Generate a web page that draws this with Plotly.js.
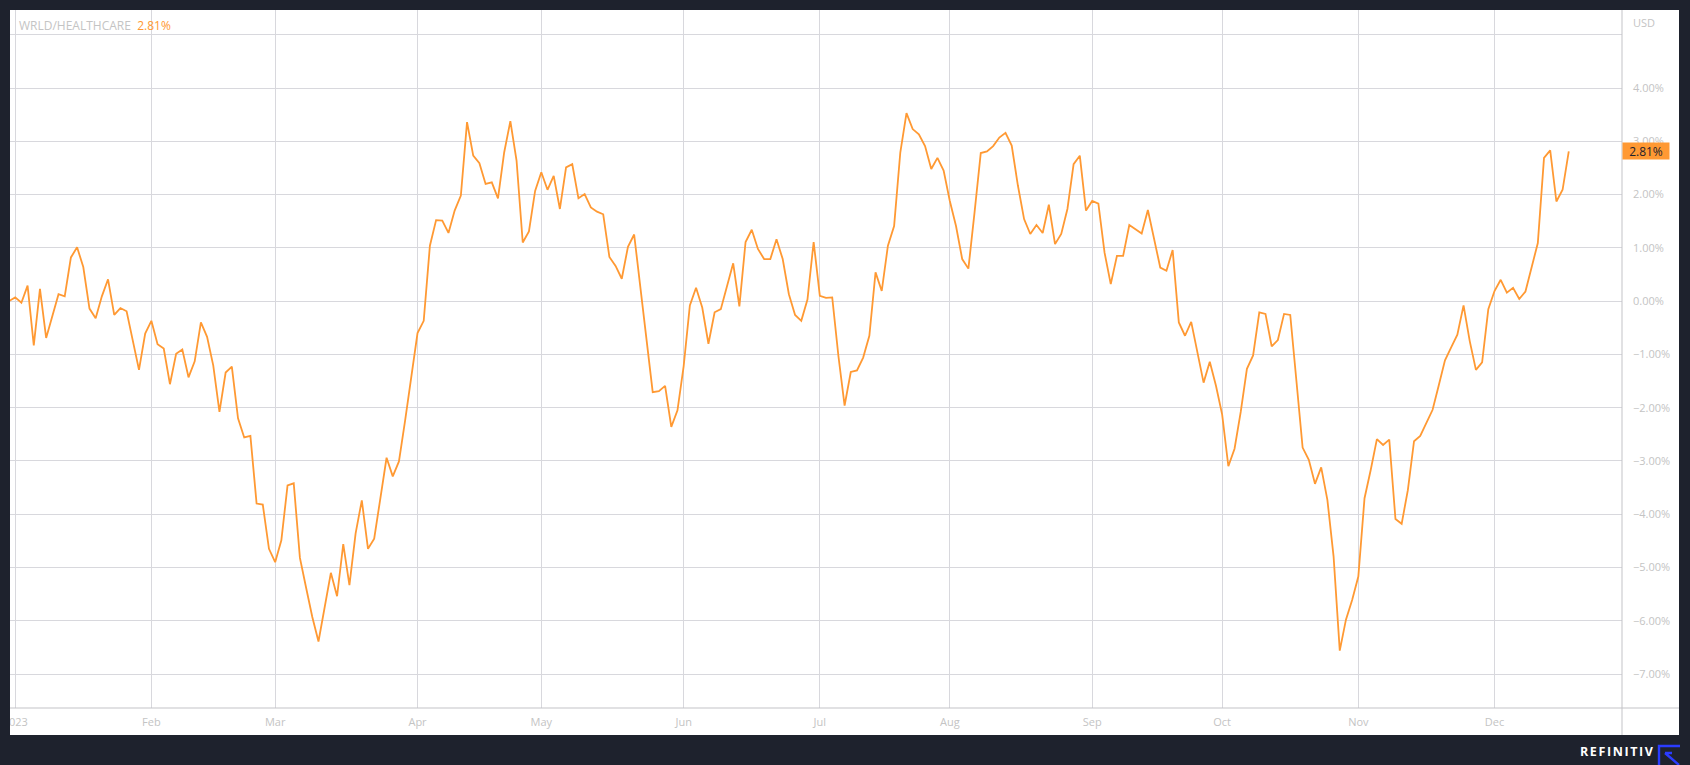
<!DOCTYPE html>
<html>
<head>
<meta charset="utf-8">
<script src="https://cdn.plot.ly/plotly-3.0.1.min.js"></script>
<style>
  html, body { margin: 0; padding: 0; background: #1e222d; width: 1690px; height: 765px; overflow: hidden; }
  #panel { position: absolute; left: 10px; top: 10px; width: 1669px; height: 725px; background: #ffffff; overflow: hidden; }
  #chart { position: absolute; left: 0; top: 0; width: 1669px; height: 725px; }
  #brand { position: absolute; left: 1580px; top: 744px; font-family: 'Open Sans', sans-serif; font-weight: 700;
           font-size: 12.5px; letter-spacing: 1.6px; color: #ffffff; line-height: 16px; }
  #logo { position: absolute; left: 1657px; top: 744px; }
</style>
</head>
<body>
<div id="panel"><div id="chart"></div></div>
<div id="brand">REFINITIV</div>
<svg id="logo" width="24" height="21" viewBox="0 0 24 21">
  <path d="M2 21 V2 H23" fill="none" stroke="#2b3cff" stroke-width="2.4"/>
  <path d="M8 9 L22 21 M8 9 H15" fill="none" stroke="#2b3cff" stroke-width="2.4"/>
</svg>
<script>
// ---- data ----
const seriesName = 'WRLD/HEALTHCARE';
const currency = 'USD';
const firstTradingDay = '2022-12-30';
// daily relative performance (%), one value per weekday from firstTradingDay
const relPerf = [
  0.00, 0.07, -0.03, 0.29, -0.83, 0.23, -0.69, -0.26, 0.13, 0.09,
  0.82, 1.01, 0.64, -0.14, -0.32, 0.09, 0.41, -0.26, -0.13, -0.19,
  -0.73, -1.29, -0.61, -0.37, -0.81, -0.89, -1.56, -0.99, -0.91, -1.43,
  -1.13, -0.40, -0.67, -1.21, -2.08, -1.34, -1.23, -2.20, -2.56, -2.53,
  -3.80, -3.82, -4.65, -4.90, -4.49, -3.46, -3.42, -4.82, -5.38, -5.93,
  -6.39, -5.73, -5.10, -5.54, -4.56, -5.33, -4.36, -3.74, -4.65, -4.46,
  -3.66, -2.94, -3.29, -3.01, -2.24, -1.45, -0.60, -0.37, 1.04, 1.52,
  1.51, 1.28, 1.70, 1.98, 3.36, 2.73, 2.59, 2.20, 2.23, 1.93,
  2.79, 3.38, 2.64, 1.10, 1.31, 2.07, 2.42, 2.09, 2.35, 1.73,
  2.51, 2.57, 1.93, 2.01, 1.76, 1.68, 1.63, 0.83, 0.66, 0.42,
  1.02, 1.25, 0.25, -0.70, -1.71, -1.69, -1.59, -2.36, -2.05, -1.22,
  -0.08, 0.25, -0.12, -0.80, -0.21, -0.15, 0.26, 0.71, -0.10, 1.11,
  1.34, 0.98, 0.79, 0.79, 1.16, 0.79, 0.13, -0.26, -0.37, 0.03,
  1.11, 0.10, 0.06, 0.07, -1.03, -1.96, -1.33, -1.30, -1.06, -0.65,
  0.54, 0.19, 1.04, 1.41, 2.79, 3.53, 3.23, 3.13, 2.91, 2.48,
  2.69, 2.45, 1.88, 1.41, 0.79, 0.61, 1.67, 2.78, 2.81, 2.91,
  3.07, 3.16, 2.92, 2.17, 1.54, 1.26, 1.43, 1.28, 1.81, 1.07,
  1.26, 1.73, 2.57, 2.73, 1.70, 1.88, 1.83, 0.91, 0.32, 0.85,
  0.85, 1.43, 1.35, 1.27, 1.71, 1.20, 0.63, 0.57, 0.96, -0.40,
  -0.65, -0.39, -0.97, -1.53, -1.14, -1.59, -2.13, -3.10, -2.77, -2.08,
  -1.27, -1.02, -0.21, -0.24, -0.85, -0.73, -0.24, -0.26, -1.50, -2.75,
  -2.98, -3.43, -3.12, -3.73, -4.79, -6.56, -5.98, -5.61, -5.17, -3.70,
  -3.17, -2.59, -2.70, -2.60, -4.09, -4.18, -3.55, -2.63, -2.53, -2.30,
  -2.04, -1.58, -1.11, -0.87, -0.63, -0.08, -0.75, -1.29, -1.15, -0.15,
  0.19, 0.40, 0.16, 0.25, 0.04, 0.18, 0.66, 1.09, 2.69, 2.83,
  1.87, 2.09, 2.81
];
const monthTicks = ['2023-01-02','2023-02-01','2023-03-01','2023-04-03','2023-05-01','2023-06-01',
                    '2023-07-03','2023-08-01','2023-09-01','2023-10-02','2023-11-01','2023-12-01'];
const monthLabels = ['2023','Feb','Mar','Apr','May','Jun','Jul','Aug','Sep','Oct','Nov','Dec'];
const yTickVals = [-7,-6,-5,-4,-3,-2,-1,0,1,2,3,4,5];

// ---- build weekday dates ----
function weekdayDates(start, n) {
  const out = [];
  const d = new Date(start + 'T00:00:00Z');
  while (out.length < n) {
    const wd = d.getUTCDay();
    if (wd !== 0 && wd !== 6) out.push(d.toISOString().slice(0, 10));
    d.setUTCDate(d.getUTCDate() + 1);
  }
  return out;
}
const dates = weekdayDates(firstTradingDay, relPerf.length);
const lastVal = relPerf[relPerf.length - 1];
const fmt = v => v.toFixed(2) + '%';

const orange = '#ff9933';
const grid = '#d8d8dd';
const axisCol = '#c3c3c7';
const labelCol = '#c4c4c4';
const W = 1669, H = 725, R = 57, B = 27;
const plotW = W - R, plotH = H - B;

const trace = {
  x: dates, y: relPerf, type: 'scatter', mode: 'lines',
  line: { color: orange, width: 1.8, shape: 'linear' },
  hoverinfo: 'x+y'
};

const layout = {
  width: W, height: H,
  margin: { l: 0, r: R, t: 0, b: B, pad: 0 },
  paper_bgcolor: '#ffffff', plot_bgcolor: '#ffffff',
  showlegend: false,
  font: { family: 'Open Sans, sans-serif', size: 11, color: labelCol },
  xaxis: {
    type: 'date',
    rangebreaks: [{ bounds: ['sat', 'mon'] }],
    range: ['2022-12-30 03:50', '2023-12-29 14:24'],
    tickmode: 'array', tickvals: monthTicks, ticktext: monthLabels,
    showgrid: true, gridcolor: grid, gridwidth: 1,
    zeroline: false, showline: false, ticks: '',
    ticklabelstandoff: 6,
    ticklabeloverflow: 'allow',
    tickfont: { family: 'Open Sans, sans-serif', size: 11, color: labelCol },
    fixedrange: true
  },
  yaxis: {
    side: 'right',
    range: [-7.638, 5.465],
    tickmode: 'array', tickvals: yTickVals,
    ticktext: yTickVals.map(v => v === 5 ? '' : fmt(v).replace('-', '\u2212')),
    showgrid: true, gridcolor: grid, gridwidth: 1,
    zeroline: false, showline: false, ticks: '',
    ticklabelstandoff: 10,
    tickfont: { family: 'Open Sans, sans-serif', size: 11, color: labelCol },
    fixedrange: true
  },
  shapes: [
    { type: 'line', xref: 'paper', yref: 'paper', x0: 0, x1: W / plotW, y0: 0, y1: 0,
      line: { color: axisCol, width: 1 } },
    { type: 'line', xref: 'paper', yref: 'paper', x0: 1, x1: 1, y0: -B / plotH, y1: 1,
      line: { color: axisCol, width: 1 } }
  ],
  annotations: [
    { xref: 'paper', yref: 'paper', x: 0, y: 1 - 16 / plotH, xanchor: 'left', yanchor: 'middle',
      xshift: 7, showarrow: false, align: 'left',
      text: seriesName + '&nbsp;&nbsp;<span style="color:' + orange + '">' + fmt(lastVal) + '</span>',
      font: { family: 'Open Sans, sans-serif', size: 12, color: '#c4c4c4' } },
    { xref: 'paper', yref: 'paper', x: 1, y: 1 - 13 / plotH, xanchor: 'left', yanchor: 'middle',
      xshift: 9, showarrow: false, text: currency,
      font: { family: 'Open Sans, sans-serif', size: 11, color: labelCol } },
    { xref: 'paper', yref: 'y', x: 1, y: lastVal, xanchor: 'left', yanchor: 'middle',
      showarrow: false, text: fmt(lastVal), bgcolor: orange, borderpad: 1,
      width: 44, height: 14,
      font: { family: 'Open Sans, sans-serif', size: 12, color: '#1e222d' } }
  ]
};

Plotly.newPlot('chart', [trace], layout, { displayModeBar: false, staticPlot: true });
</script>
</body>
</html>
